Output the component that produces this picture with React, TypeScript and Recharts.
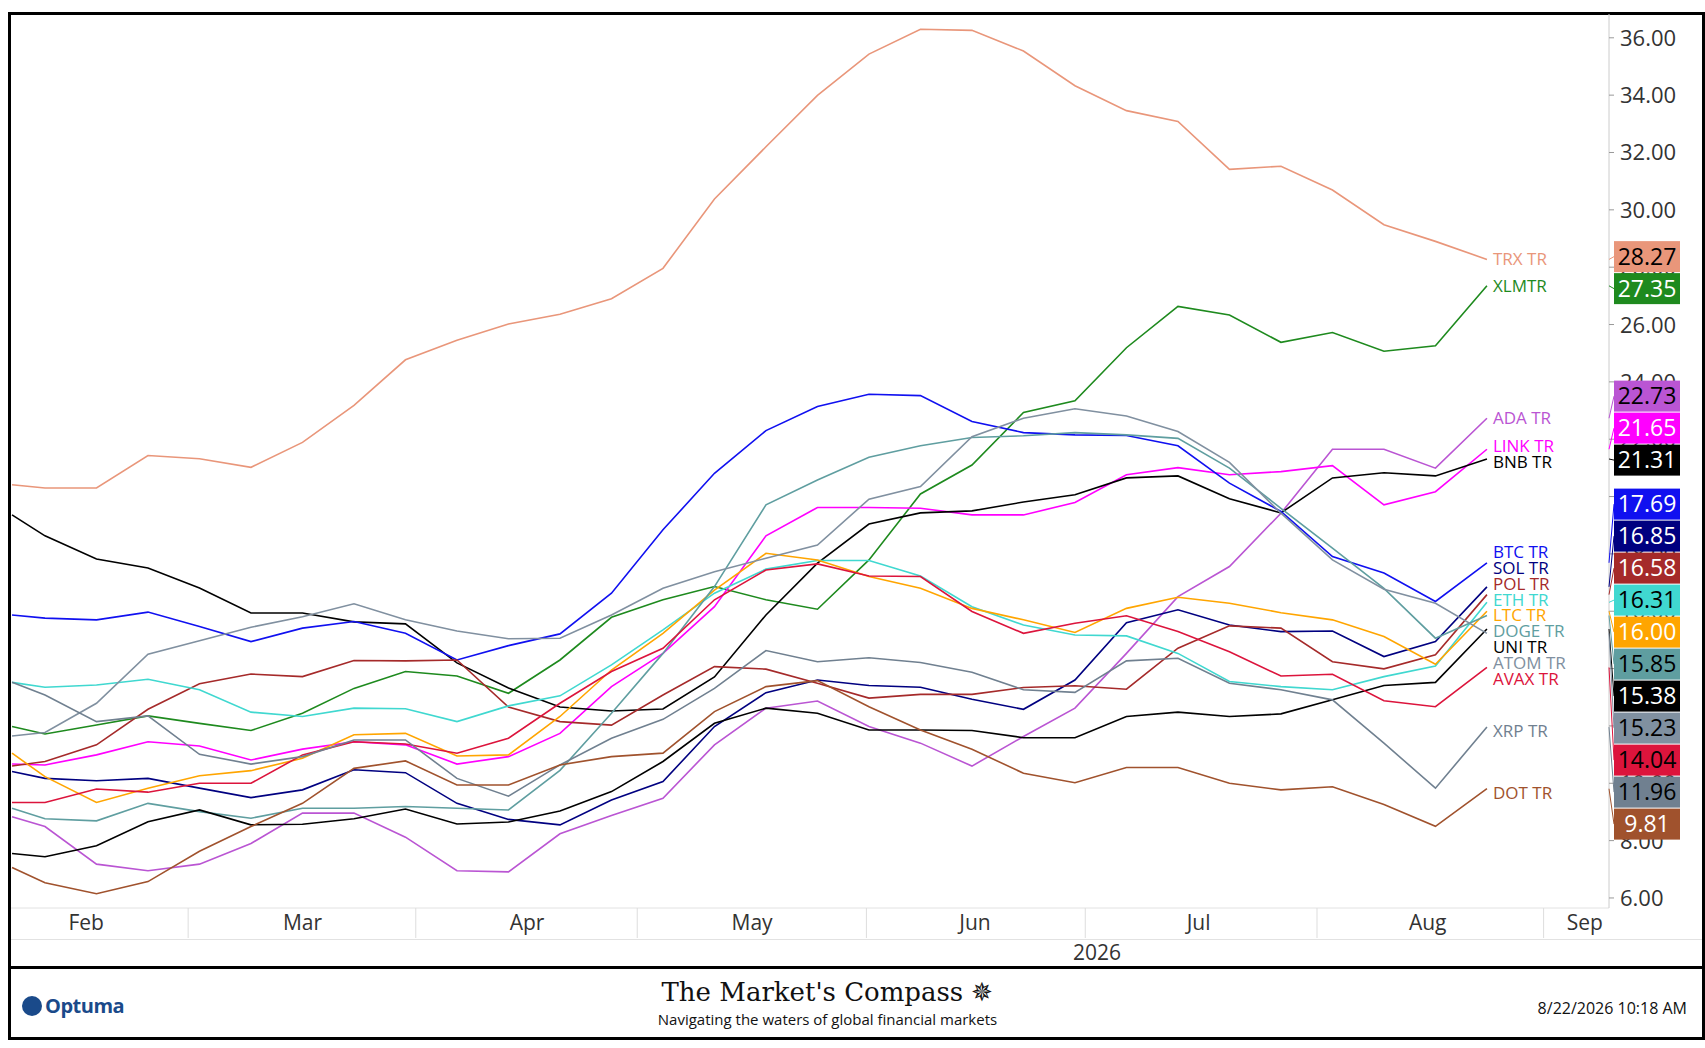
import { LineChart, Line, XAxis, YAxis } from "recharts";

// weekly closes; first point is a partial week
const weeks = [-0.64, 0, 1, 2, 3, 4, 5, 6, 7, 8, 9, 10, 11, 12, 13, 14, 15, 16, 17, 18, 19, 20, 21, 22, 23, 24, 25, 26, 27, 28];

const trx = [20.41, 20.3, 20.3, 21.43, 21.32, 21.02, 21.89, 23.18, 24.77, 25.45, 26.02, 26.36, 26.9, 27.96, 30.38, 32.2, 33.99, 35.43, 36.3, 36.26, 35.54, 34.33, 33.46, 33.08, 31.41, 31.52, 30.69, 29.48, 28.9, 28.27];
const xlm = [11.98, 11.72, 12.03, 12.35, 12.09, 11.84, 12.44, 13.31, 13.9, 13.74, 13.14, 14.3, 15.79, 16.4, 16.86, 16.4, 16.07, 17.79, 20.09, 21.1, 22.93, 23.34, 25.19, 26.63, 26.33, 25.38, 25.72, 25.07, 25.26, 27.35];
const ada = [8.83, 8.49, 7.18, 6.95, 7.18, 7.9, 8.96, 8.96, 8.12, 6.95, 6.91, 8.24, 8.88, 9.48, 11.34, 12.62, 12.87, 11.98, 11.4, 10.6, 11.63, 12.62, 14.53, 16.51, 17.56, 19.42, 21.65, 21.65, 20.99, 22.73];
const link = [10.67, 10.64, 10.99, 11.45, 11.3, 10.81, 11.19, 11.45, 11.34, 10.67, 10.93, 11.74, 13.37, 14.53, 16.16, 18.63, 19.62, 19.62, 19.59, 19.36, 19.36, 19.79, 20.76, 21.01, 20.76, 20.87, 21.08, 19.71, 20.17, 21.65];
const bnb = [19.36, 18.63, 17.82, 17.51, 16.81, 15.94, 15.94, 15.63, 15.56, 14.2, 13.32, 12.66, 12.52, 12.59, 13.71, 15.87, 17.68, 19.04, 19.43, 19.5, 19.81, 20.06, 20.65, 20.72, 19.92, 19.43, 20.65, 20.83, 20.72, 21.31];
const btc = [15.87, 15.76, 15.7, 15.97, 15.47, 14.94, 15.41, 15.64, 15.23, 14.3, 14.8, 15.21, 16.63, 18.84, 20.81, 22.3, 23.14, 23.57, 23.52, 22.62, 22.23, 22.15, 22.13, 21.77, 20.47, 19.48, 17.91, 17.33, 16.34, 17.69];
const sol = [10.41, 10.17, 10.09, 10.17, 9.83, 9.5, 9.77, 10.47, 10.37, 9.3, 8.74, 8.55, 9.42, 10.06, 11.98, 13.16, 13.6, 13.41, 13.35, 12.93, 12.58, 13.6, 15.6, 16.05, 15.52, 15.29, 15.31, 14.42, 14.94, 16.85];
const pol = [10.6, 10.76, 11.34, 12.58, 13.47, 13.81, 13.72, 14.28, 14.27, 14.3, 12.66, 12.15, 12.03, 13.08, 14.07, 13.98, 13.49, 12.97, 13.1, 13.1, 13.34, 13.4, 13.28, 14.71, 15.49, 15.41, 14.24, 13.99, 14.48, 16.58];
const eth = [13.52, 13.35, 13.43, 13.63, 13.26, 12.48, 12.33, 12.62, 12.6, 12.15, 12.7, 13.05, 14.13, 15.35, 16.63, 17.47, 17.77, 17.77, 17.23, 16.16, 15.52, 15.17, 15.14, 14.53, 13.55, 13.37, 13.26, 13.72, 14.09, 16.31];
const ltc = [11.05, 10.23, 9.33, 9.83, 10.26, 10.44, 10.87, 11.69, 11.74, 10.95, 10.99, 12.33, 13.95, 15.23, 16.74, 18.02, 17.79, 17.21, 16.8, 16.1, 15.7, 15.26, 16.1, 16.49, 16.28, 15.95, 15.7, 15.12, 14.15, 16.0];
const doge = [9.13, 8.76, 8.69, 9.3, 9.01, 8.78, 9.13, 9.13, 9.19, 9.13, 9.07, 10.45, 12.44, 14.53, 16.86, 19.71, 20.58, 21.37, 21.77, 22.06, 22.12, 22.23, 22.15, 22.03, 20.99, 19.59, 18.2, 16.8, 15.06, 15.85];
const uni = [7.55, 7.44, 7.82, 8.66, 9.07, 8.55, 8.57, 8.76, 9.1, 8.58, 8.65, 9.03, 9.71, 10.76, 12.09, 12.62, 12.44, 11.86, 11.86, 11.84, 11.59, 11.59, 12.33, 12.48, 12.33, 12.42, 12.91, 13.41, 13.52, 15.38];
const atom = [11.65, 11.77, 12.79, 14.5, 14.97, 15.44, 15.81, 16.26, 15.7, 15.31, 15.04, 15.06, 15.87, 16.8, 17.38, 17.85, 18.31, 19.91, 20.35, 22.09, 22.73, 23.06, 22.81, 22.27, 21.19, 19.42, 17.79, 16.77, 16.28, 15.23];
const avax = [9.33, 9.33, 9.8, 9.69, 10.0, 10.0, 10.99, 11.45, 11.37, 11.05, 11.57, 12.79, 13.9, 14.71, 16.4, 17.44, 17.65, 17.23, 17.21, 15.99, 15.23, 15.58, 15.84, 15.29, 14.59, 13.74, 13.8, 12.88, 12.67, 14.04];
const xrp = [13.52, 13.08, 12.15, 12.35, 11.01, 10.67, 10.93, 11.51, 11.51, 10.17, 9.55, 10.64, 11.57, 12.23, 13.31, 14.63, 14.24, 14.38, 14.21, 13.87, 13.26, 13.17, 14.27, 14.36, 13.49, 13.26, 12.91, 11.4, 9.83, 11.96];
const dot = [7.06, 6.53, 6.15, 6.57, 7.63, 8.49, 9.3, 10.52, 10.78, 9.94, 9.94, 10.64, 10.93, 11.05, 12.5, 13.37, 13.58, 12.67, 11.86, 11.19, 10.35, 10.02, 10.55, 10.55, 10.0, 9.77, 9.88, 9.26, 8.5, 9.81];

const yTicks = [6, 8, 10, 12, 14, 16, 18, 20, 22, 24, 26, 28, 30, 32, 34, 36];
const monthNames = ["Feb", "Mar", "Apr", "May", "Jun", "Jul", "Aug", "Sep"];
const monthMids = [0.8, 5.0, 9.36, 13.73, 18.06, 22.4, 26.85, 29.9];
const monthEdges = [2.78, 7.2, 11.5, 15.95, 20.2, 24.7, 29.1];

const series = [
  { key: "TRX", name: "TRX TR", color: "#E9967A", text: "#000", values: trx },
  { key: "XLM", name: "XLMTR", color: "#1E8A1E", text: "#fff", values: xlm },
  { key: "ADA", name: "ADA TR", color: "#BA55D3", text: "#000", values: ada },
  { key: "LINK", name: "LINK TR", color: "#FF00FF", text: "#fff", values: link },
  { key: "BNB", name: "BNB TR", color: "#000000", text: "#fff", values: bnb },
  { key: "BTC", name: "BTC TR", color: "#1010F0", text: "#fff", values: btc },
  { key: "SOL", name: "SOL TR", color: "#000080", text: "#fff", values: sol },
  { key: "POL", name: "POL TR", color: "#A52A2A", text: "#fff", values: pol },
  { key: "ETH", name: "ETH TR", color: "#40D8D0", text: "#000", values: eth },
  { key: "LTC", name: "LTC TR", color: "#FFA500", text: "#fff", values: ltc },
  { key: "DOGE", name: "DOGE TR", color: "#5F9EA0", text: "#000", values: doge },
  { key: "UNI", name: "UNI TR", color: "#000000", text: "#fff", values: uni },
  { key: "ATOM", name: "ATOM TR", color: "#8090A0", text: "#000", values: atom },
  { key: "AVAX", name: "AVAX TR", color: "#DC143C", text: "#000", values: avax },
  { key: "XRP", name: "XRP TR", color: "#708090", text: "#000", values: xrp },
  { key: "DOT", name: "DOT TR", color: "#A0522D", text: "#fff", values: dot },
];

const Y_MIN = 5.65;
const Y_MAX = 36.83;
const TOP = 14;
const PLOT_H = 894;
const PX = PLOT_H / (Y_MAX - Y_MIN);

const rows = weeks.map((w, i) => {
  const r: Record<string, number> = { x: w };
  series.forEach((s) => (r[s.key] = s.values[i]));
  return r;
});

// spread overlapping end tags apart (in value units)
function spread(gap: number) {
  const order = series.map((s, i) => ({ i, v: s.values[s.values.length - 1] })).sort((a, b) => b.v - a.v);
  const pos = order.map((o) => o.v);
  for (let it = 0; it < 400; it++) {
    for (let j = 1; j < pos.length; j++) {
      const d = pos[j - 1] - pos[j];
      if (d < gap) {
        const m = (gap - d) / 2;
        pos[j - 1] += m;
        pos[j] -= m;
      }
    }
  }
  const out: number[] = [];
  order.forEach((o, j) => (out[o.i] = pos[j]));
  return out;
}
const boxPos = spread(32 / PX);
const labelPos = spread(15.8 / PX);

const font = "'Open Sans', 'Noto Sans', sans-serif";

function endTag(idx: number) {
  const s = series[idx];
  return (p: any) => {
    if (p.index !== weeks.length - 1) return null;
    const v = s.values[s.values.length - 1];
    const ly = p.y + (v - labelPos[idx]) * PX + (idx > 4 ? 4 : 0);
    const by = TOP + (Y_MAX - boxPos[idx]) * PX + (idx > 4 ? 20 : idx > 1 ? 8 : 0);
    return (
      <g>
        <text x={p.x + 6} y={ly} dy={6} fill={s.color} fontSize={17} fontFamily={font}>{s.name}</text>
        <line x1={1609} y1={p.y} x2={1614} y2={by} stroke={s.color} strokeWidth={1} />
        <rect x={1614} y={by - 15.5} width={66} height={31} fill={s.color} />
        <text x={1647} y={by} dy={8} textAnchor="middle" fill={s.text} fontSize={23} fontFamily={font}>{v.toFixed(2)}</text>
      </g>
    );
  };
}

const XTick = (p: any) => {
  const v = p.payload.value;
  const e = monthEdges.indexOf(v);
  if (e >= 0) return <line x1={p.x} x2={p.x} y1={p.y - 8} y2={p.y + 24} stroke="#ddd" />;
  const m = monthMids.indexOf(v);
  return <text x={p.x} y={p.y + 14} textAnchor="middle" fill="#333" fontSize={21} fontFamily={font}>{monthNames[m]}</text>;
};

const YTick = (p: any) => (
  <text x={p.x + 4} y={p.y} dy={8} fill="#333" fontSize={22} fontFamily={font}>{p.payload.value.toFixed(2)}</text>
);

export default function App() {
  return (
    <div style={{ position: "absolute", left: 0, top: 0, width: 1705, height: 1048, background: "#fff", fontFamily: font }}>
      <div style={{ position: "absolute", left: 8, top: 12, width: 1691, height: 1022, border: "3px solid #000" }} />
      <div style={{ position: "absolute", left: 11, top: 939, width: 1691, borderTop: "1px solid #e2e2e2" }} />
      <div style={{ position: "absolute", left: 11, top: 966, width: 1691, borderTop: "3px solid #000" }} />
      <div style={{ position: "absolute", left: 1073, top: 938, fontSize: 21, color: "#333" }}>2026</div>
      <div style={{ position: "absolute", left: 22, top: 992, fontSize: 20, fontWeight: 700, color: "#1a4a8a", letterSpacing: -0.5 }}>
        <span style={{ display: "inline-block", width: 20, height: 20, borderRadius: 10, background: "#1a4a8a", marginRight: 3, verticalAlign: -3 }} />
        Optuma
      </div>
      <div style={{ position: "absolute", left: 0, width: 1655, top: 977, textAlign: "center", fontFamily: "'DejaVu Serif', 'Liberation Serif', serif", fontSize: 26, color: "#111" }}>
        The Market's Compass ✵
      </div>
      <div style={{ position: "absolute", left: 0, width: 1655, top: 1009, textAlign: "center", fontSize: 15, color: "#111" }}>
        Navigating the waters of global financial markets
      </div>
      <div style={{ position: "absolute", right: 18, top: 997, fontSize: 16, color: "#111" }}>8/22/2026 10:18 AM</div>
      <LineChart width={1705} height={938} data={rows} margin={{ top: TOP, left: 11, right: 0, bottom: 0 }}>
        <XAxis
          dataKey="x"
          type="number"
          domain={[-0.66, 30.37]}
          ticks={[...monthMids, ...monthEdges]}
          interval={0}
          tick={<XTick />}
          tickLine={false}
          axisLine={{ stroke: "#e2e2e2" }}
          height={30}
          allowDataOverflow
        />
        <YAxis
          orientation="right"
          type="number"
          domain={[Y_MIN, Y_MAX]}
          ticks={yTicks}
          interval={0}
          tick={<YTick />}
          tickSize={5}
          tickLine={{ stroke: "#999" }}
          axisLine={{ stroke: "#ccc" }}
          width={96}
          allowDataOverflow
        />
        {series.map((s, i) => (
          <Line
            key={s.key}
            dataKey={s.key}
            stroke={s.color}
            strokeWidth={1.6}
            dot={false}
            isAnimationActive={false}
            label={endTag(i)}
          />
        ))}
      </LineChart>
    </div>
  );
}
